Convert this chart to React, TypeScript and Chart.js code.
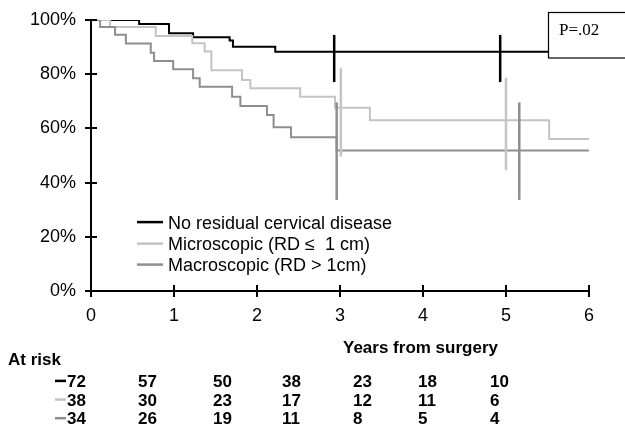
import React, { useEffect, useRef } from 'react';
import { Chart, registerables } from 'chart.js';

Chart.register(...registerables);

// ---------- data ----------
const seriesLabels = ['No residual cervical disease', 'Microscopic (RD \u2264  1 cm)', 'Macroscopic (RD > 1cm)'];
const seriesColors = ['#000000', '#c4c4c4', '#8e8e8e'];

const noResidualYears = [0, 0.58, 0.94, 1.23, 1.67, 1.71, 2.22, 6];
const noResidualSurv = [100, 98.5, 95.1, 93.6, 92.4, 90.1, 88.3, 88.3];

const microYears = [0, 0.23, 0.78, 1.22, 1.37, 1.45, 1.82, 1.92, 2.52, 2.94, 3.36, 5.52, 6];
const microSurv = [100, 97.4, 94.1, 91.4, 88.4, 81.5, 77.9, 74.8, 71.7, 67.6, 63.0, 56.1, 56.1];

const macroYears = [0, 0.11, 0.29, 0.42, 0.72, 0.76, 0.99, 1.23, 1.31, 1.70, 1.80, 2.12, 2.20, 2.41, 2.96, 6];
const macroSurv = [100, 97.4, 94.6, 91.3, 87.9, 84.9, 81.8, 78.5, 75.4, 71.7, 68.3, 64.9, 60.4, 56.7, 51.8, 51.8];

// vertical bars (confidence intervals) at 3 and 5 years
const noResidualBarYears = [2.93, 4.93];
const noResidualBarLow = [77.1, 77.1];
const noResidualBarHigh = [94.5, 94.5];
const microBarYears = [3.01, 5.0];
const microBarLow = [49.6, 44.6];
const microBarHigh = [82.2, 78.7];
const macroBarYears = [2.96, 5.16];
const macroBarLow = [33.6, 33.6];
const macroBarHigh = [69.6, 69.6];

const xTickValues = [0, 1, 2, 3, 4, 5, 6];
const yTickValues = [0, 20, 40, 60, 80, 100];

const riskNoResidual = [72, 57, 50, 38, 23, 18, 10];
const riskMicro = [38, 30, 23, 17, 12, 11, 6];
const riskMacro = [34, 26, 19, 11, 8, 5, 4];

const pValueText = 'P=.02';
const xTitle = 'Years from surgery';
const riskTitle = 'At risk';

// ---------- layout constants ----------
const W = 625;
const H = 428;
const SANS = '"Liberation Sans", Arial, sans-serif';
const SERIF = '"Liberation Serif", "Times New Roman", serif';
const riskColX = [67, 138, 213, 282, 353, 418, 490];
const riskRowBase = [387, 405.7, 424.3];
const legendRowBase = [228.5, 250, 271];

const toPts = (xs: number[], ys: number[]) => xs.map((x, i) => ({ x, y: ys[i] }));

export default function App() {
  const ref = useRef<HTMLCanvasElement | null>(null);

  useEffect(() => {
    document.body.style.margin = '0';
    const canvas = ref.current;
    if (!canvas) return;

    const curves = [
      toPts(noResidualYears, noResidualSurv),
      toPts(microYears, microSurv),
      toPts(macroYears, macroSurv),
    ];
    const bars = [
      [noResidualBarYears, noResidualBarLow, noResidualBarHigh],
      [microBarYears, microBarLow, microBarHigh],
      [macroBarYears, macroBarLow, macroBarHigh],
    ];
    const risks = [riskNoResidual, riskMicro, riskMacro];

    const datasets: any[] = [];
    curves.forEach((pts, i) => {
      datasets.push({
        label: seriesLabels[i],
        data: pts,
        showLine: true,
        stepped: true,
        borderColor: seriesColors[i],
        backgroundColor: seriesColors[i],
        borderWidth: 2,
        pointRadius: 0,
        fill: false,
        order: 10 - i,
      });
    });
    bars.forEach((b, i) => {
      const [xs, lo, hi] = b;
      xs.forEach((x, j) => {
        datasets.push({
          label: '_bar',
          isBar: true,
          data: [
            { x, y: lo[j] },
            { x, y: hi[j] },
          ],
          showLine: true,
          borderColor: seriesColors[i],
          borderWidth: i === 0 ? 2.5 : 2.5,
          pointRadius: 0,
          fill: false,
          order: 3 - i,
        });
      });
    });

    const overlay = {
      id: 'overlay',
      afterDraw(chart: any) {
        const ctx = chart.ctx as CanvasRenderingContext2D;
        const { left, bottom } = chart.chartArea;
        const xs = chart.scales.x;
        const ys = chart.scales.y;
        ctx.save();
        // inner halves of tick marks
        ctx.strokeStyle = '#000';
        ctx.lineWidth = 2;
        ctx.beginPath();
        yTickValues.forEach((v) => {
          const p = Math.round(ys.getPixelForValue(v));
          ctx.moveTo(left, p);
          ctx.lineTo(left + 6, p);
        });
        xTickValues.forEach((v) => {
          const p = Math.round(xs.getPixelForValue(v));
          ctx.moveTo(p, bottom);
          ctx.lineTo(p, bottom - 6);
        });
        ctx.stroke();

        // P-value box
        ctx.fillStyle = '#fff';
        ctx.fillRect(548, 12, 90, 46);
        ctx.strokeStyle = '#000';
        ctx.lineWidth = 1.2;
        ctx.strokeRect(548.5, 12.5, 90, 45.5);
        ctx.fillStyle = '#000';
        ctx.font = `17px ${SERIF}`;
        ctx.textBaseline = 'alphabetic';
        ctx.textAlign = 'left';
        ctx.fillText(pValueText, 559, 35);

        // legend
        ctx.font = `18px ${SANS}`;
        seriesLabels.forEach((lab, i) => {
          const base = legendRowBase[i];
          const mid = base - 6.4;
          ctx.strokeStyle = seriesColors[i];
          ctx.lineWidth = 2.5;
          ctx.beginPath();
          ctx.moveTo(137, mid);
          ctx.lineTo(163, mid);
          ctx.stroke();
          ctx.fillStyle = '#000';
          ctx.fillText(lab, 168, base);
        });

        // x title and at-risk table
        ctx.font = `bold 17px ${SANS}`;
        ctx.fillStyle = '#000';
        ctx.fillText(xTitle, 343, 353);
        ctx.fillText(riskTitle, 8, 365);
        risks.forEach((row, r) => {
          const base = riskRowBase[r];
          const mid = base - 6.1;
          ctx.strokeStyle = seriesColors[r];
          ctx.lineWidth = 2.5;
          ctx.beginPath();
          ctx.moveTo(55, mid);
          ctx.lineTo(66, mid);
          ctx.stroke();
          ctx.fillStyle = '#000';
          row.forEach((v, c) => {
            ctx.fillText(String(v), riskColX[c], base);
          });
        });
        ctx.restore();
      },
    };

    const chart = new Chart(canvas, {
      type: 'scatter',
      data: { datasets },
      options: {
        animation: false,
        responsive: false,
        devicePixelRatio: 1,
        layout: { padding: { left: 0, top: 20, right: 36, bottom: 97 } },
        plugins: {
          legend: { display: false },
          tooltip: { enabled: false },
        },
        scales: {
          x: {
            type: 'linear',
            min: 0,
            max: 6,
            afterFit: (s: any) => {
              s.height = 40;
            },
            afterBuildTicks: (s: any) => {
              s.ticks = xTickValues.map((v) => ({ value: v }));
            },
            ticks: {
              color: '#000',
              font: { family: SANS, size: 18 },
              padding: 8,
              maxRotation: 0,
              callback: (v: any) => String(v),
            },
            grid: { drawOnChartArea: false, drawTicks: true, tickLength: 6, color: '#000', lineWidth: 2 },
            border: { display: true, color: '#000', width: 2 },
          },
          y: {
            type: 'linear',
            min: 0,
            max: 100,
            afterFit: (s: any) => {
              s.width = 91;
            },
            afterBuildTicks: (s: any) => {
              s.ticks = yTickValues.map((v) => ({ value: v }));
            },
            ticks: {
              color: '#000',
              font: { family: SANS, size: 18 },
              padding: 9,
              callback: (v: any) => `${v}%`,
            },
            grid: { drawOnChartArea: false, drawTicks: true, tickLength: 6, color: '#000', lineWidth: 2 },
            border: { display: true, color: '#000', width: 2 },
          },
        },
      },
      plugins: [overlay],
    });

    return () => chart.destroy();
  }, []);

  return (
    <div style={{ width: W, height: H, background: '#fff' }}>
      <canvas ref={ref} width={W} height={H} style={{ display: 'block', width: W, height: H }} />
    </div>
  );
}
